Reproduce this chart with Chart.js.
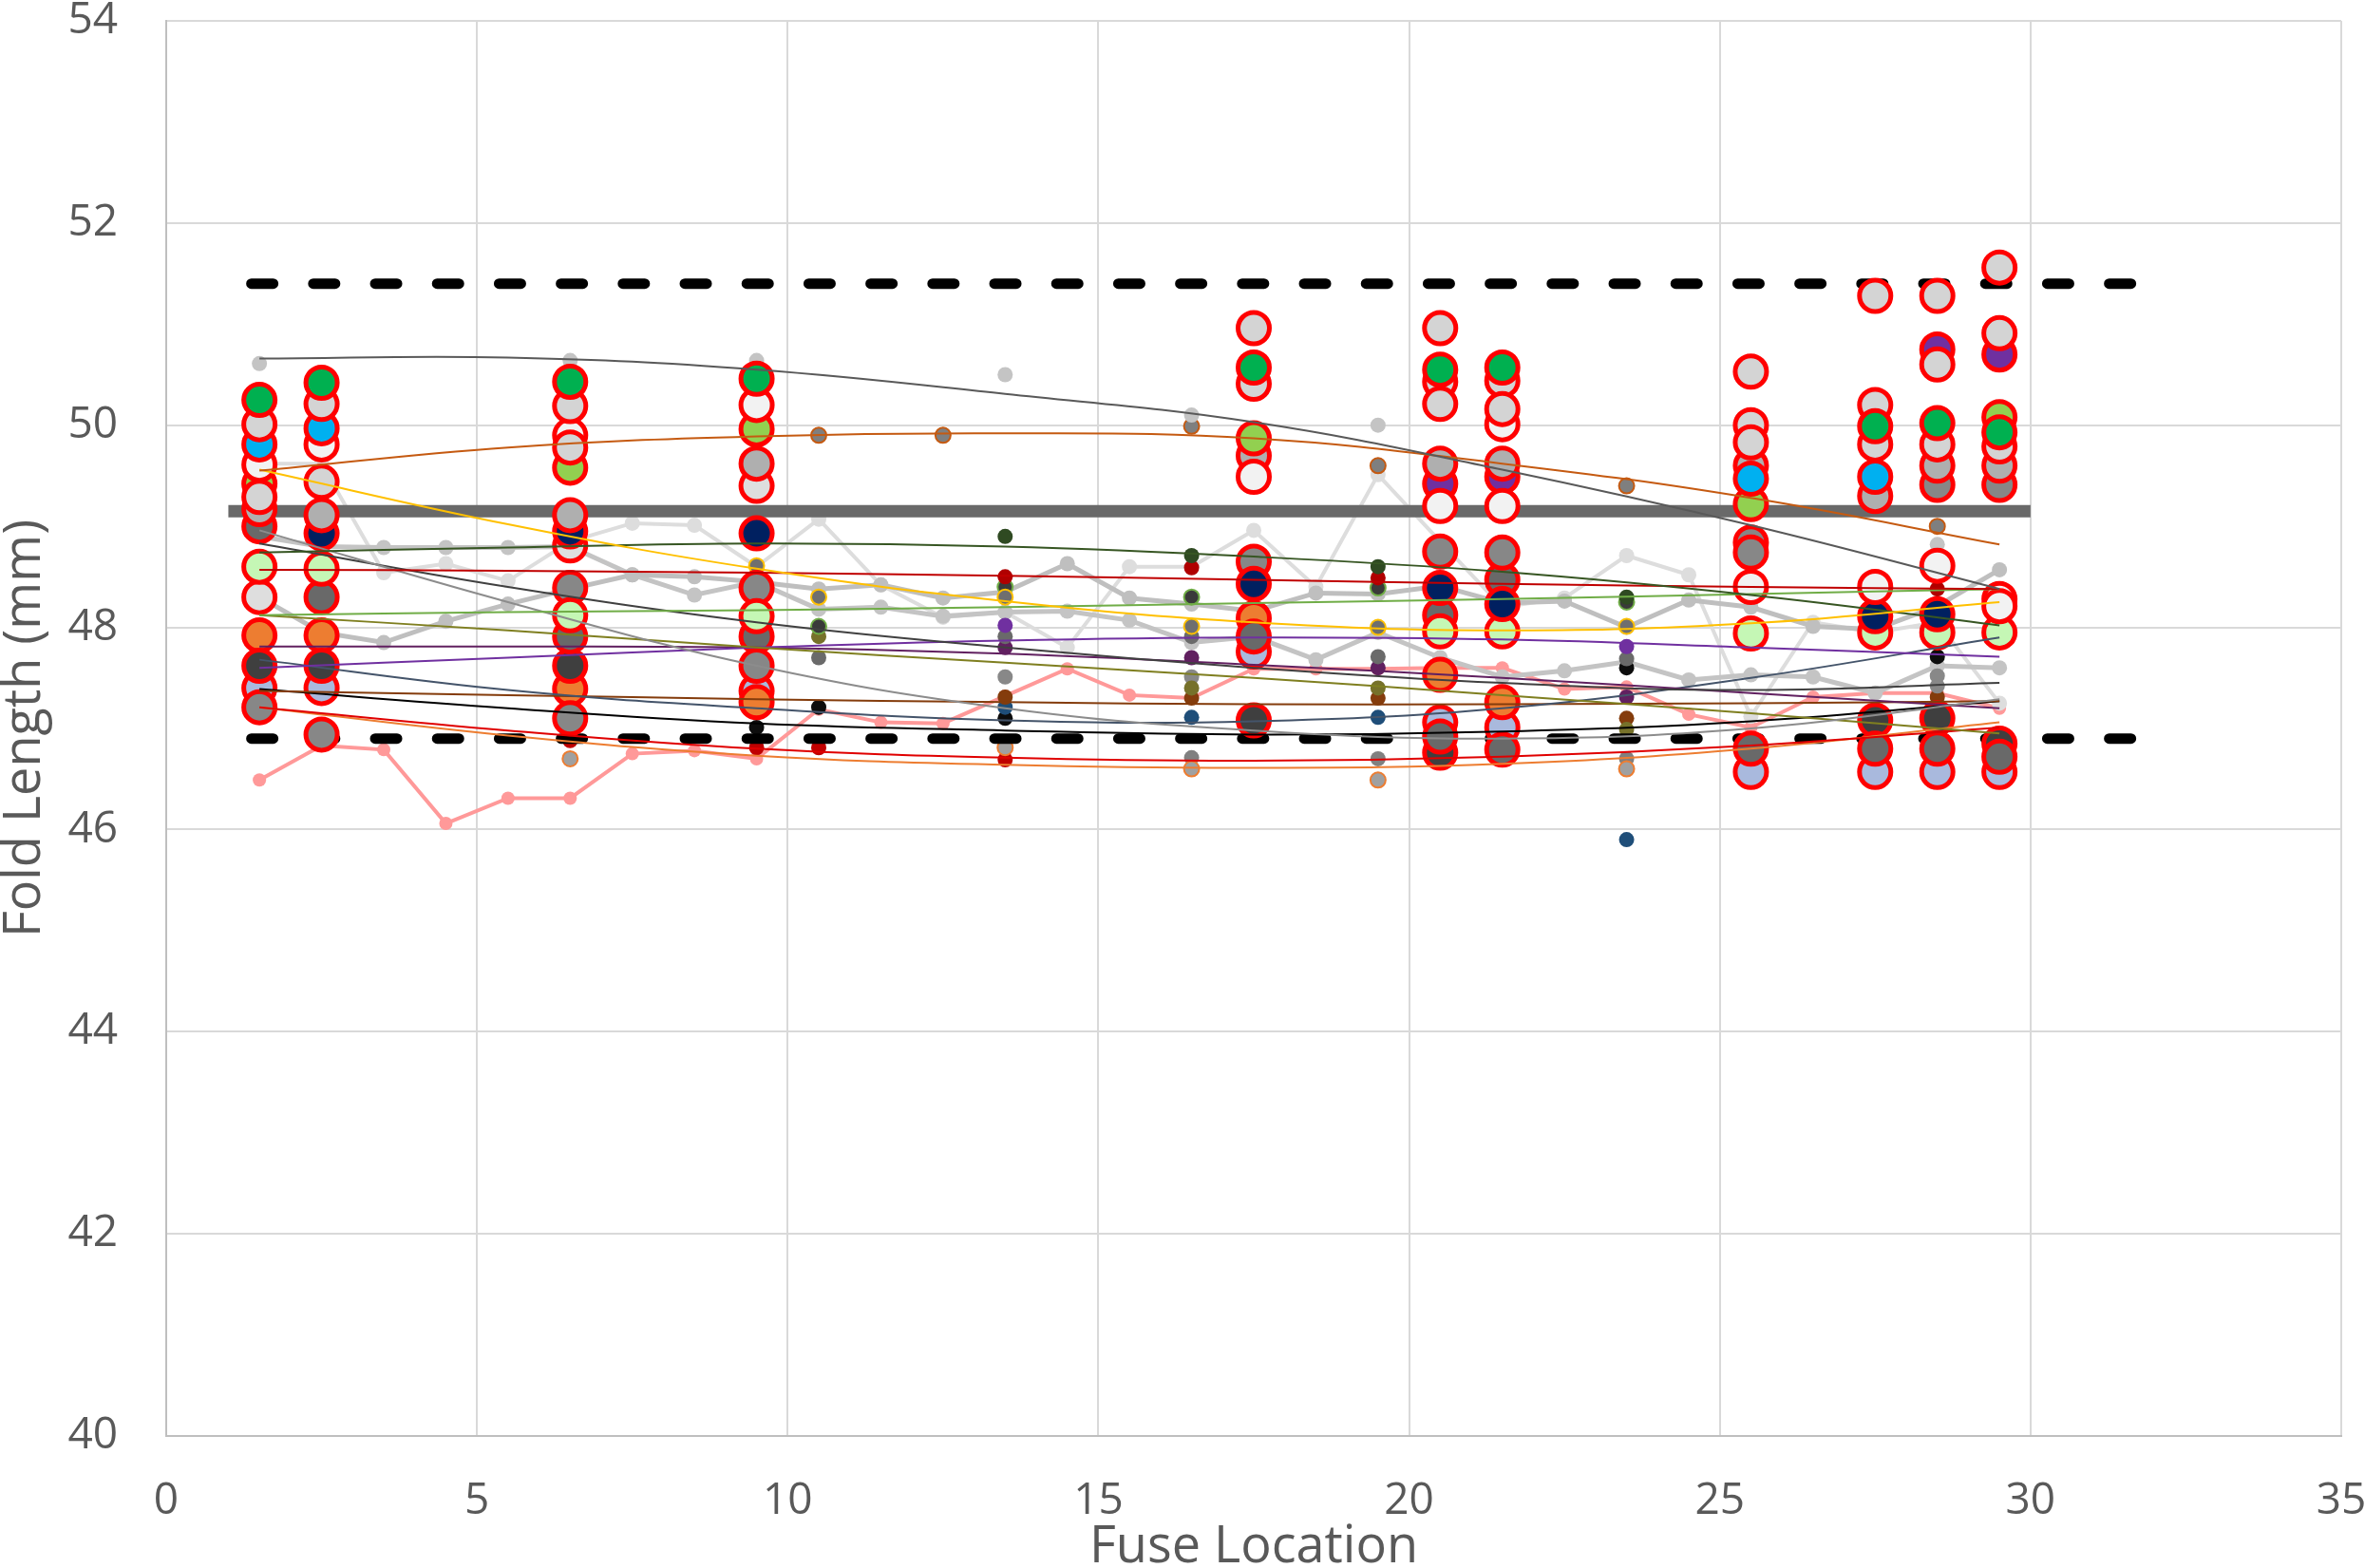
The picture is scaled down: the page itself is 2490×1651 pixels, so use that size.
<!DOCTYPE html>
<html>
<head>
<meta charset="utf-8">
<script src="https://cdn.jsdelivr.net/npm/chart.js@4.4.1/dist/chart.umd.min.js"></script>
<style>
  html, body { margin: 0; padding: 0; background: #fff; }
  #wrap { width: 2490px; height: 1651px; position: relative; }
</style>
</head>
<body>
<div id="wrap"><canvas id="chart"></canvas></div>
<script>
// fuse positions measured along the part
const fuseX = [1.5, 2.5, 3.5, 4.5, 5.5, 6.5, 7.5, 8.5, 9.5, 10.5, 11.5, 12.5, 13.5, 14.5, 15.5,
               16.5, 17.5, 18.5, 19.5, 20.5, 21.5, 22.5, 23.5, 24.5, 25.5, 26.5, 27.5, 28.5, 29.5];

// connected runs (one value per fuse)
const greyRunA = [48.30, 47.95, 47.85, 48.06, 48.23, 48.38, 48.52, 48.50, 48.45, 48.38, 48.42, 48.29, 48.35, 48.63, 48.29,
                  48.23, 48.16, 48.34, 48.33, 48.41, 48.24, 48.26, 48.00, 48.27, 48.20, 48.01, 47.98, 48.21, 48.57];
const greyRunB = [48.90, 48.80, 48.79, 48.79, 48.79, 48.80, 48.52, 48.32, 48.45, 48.18, 48.20, 48.11, 48.15, 48.16, 48.07,
                  47.85, 47.91, 47.68, 47.95, 47.70, 47.51, 47.57, 47.66, 47.48, 47.53, 47.51, 47.35, 47.62, 47.60];
const paleRun  = [49.62, 49.62, 48.54, 48.63, 48.46, 48.85, 49.03, 49.01, 48.60, 49.07, 48.42, 48.10, 48.15, 47.80, 48.60,
                  48.60, 48.96, 48.40, 49.51, 48.85, 48.20, 48.29, 48.71, 48.52, 47.12, 48.05, 47.95, 48.05, 47.25];
const pinkRun  = [46.49, 46.83, 46.79, 46.06, 46.31, 46.31, 46.75, 46.78, 46.70, 47.19, 47.06, 47.05, 47.32, 47.59, 47.33,
                  47.30, 47.59, 47.59, 47.59, 47.60, 47.60, 47.39, 47.41, 47.14, 47.01, 47.31, 47.35, 47.35, 47.20];

// spec limits and target
const limitSpan = [1.37, 31.67];
const upperLimit = 51.4;
const lowerLimit = 46.9;
const targetSpan = [1, 30];
const target = 49.15;

// flagged measurements (red ring), grouped by fill
const ringGreen = [[1.5,50.25],[2.5,50.42],[6.5,50.43],[9.5,50.46],[17.5,50.57],[20.5,50.55],[21.5,50.57],[27.5,49.99],[28.5,50.02],[29.5,49.93]];
const ringSilver = [[1.5,50.01],[1.5,49.29],[2.5,50.21],[2.5,49.44],[6.5,50.19],[6.5,49.78],[17.5,50.96],[17.5,50.41],[20.5,50.96],[20.5,50.43],[20.5,50.21],
                    [21.5,50.44],[21.5,50.16],[25.5,50.53],[25.5,50.00],[25.5,49.83],[27.5,51.28],[27.5,50.20],[27.5,49.81],[28.5,51.28],[28.5,50.60],[28.5,49.81],
                    [29.5,51.56],[29.5,50.91],[29.5,49.79]];
const ringSky = [[1.5,49.81],[2.5,49.97],[25.5,49.47],[27.5,49.49]];
const ringWhite = [[1.5,49.61],[2.5,49.81],[6.5,49.90],[9.5,50.20],[17.5,49.49],[20.5,49.20],[21.5,49.20],[21.5,50.01],[25.5,48.40],[27.5,48.40],[28.5,48.61],[29.5,48.28],[29.5,48.21]];
const ringLime = [[1.5,49.42],[6.5,49.58],[9.5,49.96],[17.5,49.87],[25.5,49.22],[29.5,50.08]];
const ringGrey = [[1.5,49.17],[2.5,49.11],[6.5,49.11],[9.5,49.62],[17.5,49.70],[20.5,49.62],[21.5,49.62],[25.5,49.60],[27.5,49.30],[28.5,49.60],[29.5,49.60]];
const ringNavy = [[2.5,48.93],[6.5,48.95],[9.5,48.93],[17.5,48.43],[20.5,48.39],[21.5,48.23],[27.5,48.11],[28.5,48.13]];
const ringMint = [[1.5,48.60],[2.5,48.58],[6.5,48.12],[9.5,48.11],[20.5,47.96],[21.5,47.96],[25.5,47.94],[27.5,47.95],[28.5,47.95],[29.5,47.95]];
const ringPale = [[1.5,48.30],[6.5,48.81],[9.5,49.40]];
const ringMid = [[1.5,47.21],[2.5,46.94],[6.5,47.10],[6.5,48.39],[9.5,48.39],[9.5,47.62],[17.5,48.65],[20.5,48.75],[21.5,48.74],[25.5,48.84],[25.5,48.74],[28.5,49.41],[29.5,49.41]];
const ringSlate = [[1.5,49.00],[2.5,48.30],[6.5,47.91],[9.5,47.91],[17.5,47.91],[20.5,48.12],[20.5,46.92],[21.5,48.47],[21.5,46.79],[25.5,46.80],[27.5,46.80],[28.5,46.80],[29.5,46.72]];
const ringCharcoal = [[1.5,47.62],[2.5,47.62],[6.5,47.62],[17.5,47.08],[20.5,46.76],[27.5,47.08],[28.5,47.10],[29.5,46.85]];
const ringOrange = [[1.5,47.92],[2.5,47.92],[6.5,47.39],[9.5,47.26],[17.5,48.09],[20.5,47.53],[21.5,47.26]];
const ringLavender = [[1.5,47.40],[2.5,47.40],[9.5,47.37],[17.5,47.76],[20.5,47.06],[21.5,47.01],[25.5,46.57],[27.5,46.57],[28.5,46.57],[29.5,46.57]];
const ringPurple = [[20.5,49.42],[21.5,49.49],[28.5,50.75],[29.5,50.70]];

// individual measurements (small markers)
const dotSilver = [[1.5,50.61],[6.5,50.64],[9.5,50.64],[13.5,50.50],[16.5,50.10],[19.5,50.00],[28.5,48.82]];
const dotUmber = [[10.5,49.90],[12.5,49.90],[16.5,49.99],[19.5,49.60],[23.5,49.40],[28.5,49.00]];
const dotGold = [[9.5,48.61],[10.5,48.30],[13.5,48.30],[16.5,48.01],[19.5,48.00],[23.5,48.01]];
const dotForest = [[13.5,48.90],[16.5,48.71],[19.5,48.60],[23.5,48.30]];
const dotCrimson = [[13.5,48.50],[16.5,48.59],[19.5,48.49],[28.5,48.38]];
const dotMoss = [[10.5,48.01],[13.5,48.40],[16.5,48.30],[19.5,48.39],[23.5,48.25]];
const dotViolet = [[13.5,48.02],[23.5,47.81]];
const dotGraphite = [[10.5,47.70],[13.5,47.91],[16.5,47.91],[19.5,47.71],[23.5,47.69]];
const dotPlum = [[13.5,47.80],[16.5,47.70],[19.5,47.60],[23.5,47.31]];
const dotOlive = [[10.5,47.91],[16.5,47.40],[19.5,47.40],[23.5,46.99]];
const dotAsh = [[13.5,47.51],[16.5,47.51],[28.5,47.42],[28.5,47.52]];
const dotRust = [[13.5,47.31],[16.5,47.30],[19.5,47.30],[23.5,47.10],[28.5,47.31]];
const dotNavy = [[13.5,47.21],[16.5,47.11],[19.5,47.11],[23.5,45.90]];
const dotBlack = [[9.5,47.01],[10.5,47.21],[13.5,47.10],[23.5,47.60],[28.5,47.71]];
const dotTan = [[6.5,46.70],[13.5,46.81],[16.5,46.60],[19.5,46.49],[23.5,46.60]];
const dotRed = [[6.5,46.88],[9.5,46.81],[10.5,46.81],[13.5,46.69]];
const dotStone = [[16.5,46.71],[19.5,46.70],[23.5,46.70]];

// trend curves, read at these fuse positions
const trendX = [1.5, 5.5, 9.5, 13.5, 17.5, 21.5, 25.5, 29.5];
const trendSilver   = [50.66, 50.67, 50.55, 50.31, 50.03, 49.56, 49.01, 48.38];
const trendUmber    = [49.55, 49.78, 49.89, 49.92, 49.87, 49.62, 49.28, 48.82];
const trendGold     = [49.56, 49.02, 48.58, 48.26, 48.05, 47.97, 48.04, 48.25];
const trendForest   = [48.74, 48.79, 48.83, 48.80, 48.70, 48.55, 48.32, 48.02];
const trendCrimson  = [48.57, 48.56, 48.54, 48.51, 48.47, 48.43, 48.40, 48.38];
const trendMoss     = [48.12, 48.15, 48.17, 48.20, 48.24, 48.28, 48.33, 48.38];
const trendGrey     = [48.96, 48.25, 47.62, 47.20, 46.98, 46.90, 47.00, 47.29];
const trendGraphite = [48.83, 48.40, 48.05, 47.80, 47.60, 47.45, 47.38, 47.45];
const trendOlive    = [48.12, 47.97, 47.80, 47.65, 47.50, 47.33, 47.15, 46.95];
const trendViolet   = [47.60, 47.70, 47.80, 47.87, 47.90, 47.88, 47.80, 47.71];
const trendPlum     = [47.81, 47.81, 47.80, 47.74, 47.63, 47.50, 47.35, 47.20];
const trendNavy     = [47.68, 47.38, 47.20, 47.08, 47.07, 47.20, 47.50, 47.90];
const trendRust     = [47.37, 47.33, 47.29, 47.26, 47.24, 47.24, 47.25, 47.27];
const trendBlack    = [47.39, 47.20, 47.05, 46.98, 46.94, 46.97, 47.07, 47.27];
const trendRed      = [47.21, 46.98, 46.80, 46.71, 46.68, 46.72, 46.83, 47.01];
const trendOrange   = [47.21, 46.93, 46.73, 46.64, 46.61, 46.65, 46.80, 47.06];

const pts = pairs => pairs.map(p => ({ x: p[0], y: p[1] }));
const along = (xs, ys) => ys.map((y, i) => ({ x: xs[i], y: y }));

function ring(data, fill) {
    return { data: pts(data), showLine: false, pointRadius: 16.5, pointBackgroundColor: fill,
             pointBorderColor: '#ff0000', pointBorderWidth: 5, order: 1 };
}
function dot(data, fill, edge) {
    return { data: pts(data), showLine: false, pointRadius: 8, pointBackgroundColor: fill,
             pointBorderColor: edge || fill, pointBorderWidth: edge ? 2 : 0, order: 3 };
}
function trend(ys, color) {
    return { data: along(trendX, ys), showLine: true, pointRadius: 0, borderColor: color,
             borderWidth: 2, tension: 0.4, order: 0 };
}
function run(ys, color, width, r) {
    return { data: along(fuseX, ys), showLine: true, borderColor: color, borderWidth: width,
             pointRadius: r, pointBackgroundColor: color, pointBorderWidth: 0, order: 4 };
}
function flat(span, y, color, width, dash) {
    return { data: span.map(x => ({ x: x, y: y })), showLine: true, pointRadius: 0, borderColor: color,
             borderWidth: width, borderDash: dash || [], borderCapStyle: dash ? 'round' : 'butt', order: 2 };
}

const datasets = [
    trend(trendSilver, '#595959'), trend(trendUmber, '#c55a11'), trend(trendGold, '#ffc000'),
    trend(trendForest, '#375623'), trend(trendCrimson, '#c00000'), trend(trendMoss, '#70ad47'),
    trend(trendGrey, '#8c8c8c'), trend(trendGraphite, '#404040'), trend(trendOlive, '#7f7f20'),
    trend(trendViolet, '#7030a0'), trend(trendPlum, '#612060'), trend(trendNavy, '#44546a'),
    trend(trendRust, '#843c0c'), trend(trendBlack, '#000000'), trend(trendRed, '#e00000'),
    trend(trendOrange, '#ed7d31'),

    ring(ringGreen, '#00b050'), ring(ringSilver, '#d4d4d4'), ring(ringSky, '#00b0f0'),
    ring(ringWhite, '#f2f2f2'), ring(ringLime, '#92d050'), ring(ringGrey, '#afafaf'),
    ring(ringNavy, '#002060'), ring(ringMint, '#c5f7b5'), ring(ringPale, '#dedede'),
    ring(ringMid, '#878787'), ring(ringSlate, '#696969'), ring(ringCharcoal, '#3f3f3f'),
    ring(ringOrange, '#ed7d31'), ring(ringLavender, '#a9b9dd'), ring(ringPurple, '#7030a0'),

    flat(limitSpan, upperLimit, '#000000', 11, [23, 42.2]),
    flat(limitSpan, lowerLimit, '#000000', 11, [23, 42.2]),
    flat(targetSpan, target, '#696969', 13),

    dot(dotSilver, '#c4c4c4'), dot(dotUmber, '#7f7f7f', '#c55a11'), dot(dotGold, '#6f6f6f', '#ffc000'),
    dot(dotForest, '#2f4a22'), dot(dotCrimson, '#b00000'), dot(dotMoss, '#3a3a3a', '#70ad47'),
    dot(dotViolet, '#7030a0'), dot(dotGraphite, '#6a6a6a'), dot(dotPlum, '#612060'),
    dot(dotOlive, '#76712a'), dot(dotAsh, '#888888'), dot(dotRust, '#843c0c'),
    dot(dotNavy, '#1f4e79'), dot(dotBlack, '#0d0d0d'), dot(dotTan, '#a0a0a0', '#ed7d31'),
    dot(dotRed, '#c00000'), dot(dotStone, '#808080'),

    run(greyRunA, '#bfbfbf', 5, 8), run(greyRunB, '#c4c4c4', 5, 8),
    run(paleRun, '#dddddd', 4, 8), run(pinkRun, '#ff9999', 4, 7)
];

Chart.defaults.font.family = "'Open Sans', sans-serif";

// drop the label overhang chart.js adds, so the plot box sits where the padding says
const noOverhang = s => { s.paddingTop = 0; s.paddingBottom = 0; s.paddingLeft = 0; s.paddingRight = 0; };

new Chart(document.getElementById('chart'), {
    type: 'scatter',
    data: { datasets: datasets },
    options: {
        responsive: true,
        maintainAspectRatio: false,
        animation: false,
        events: [],
        layout: { padding: { top: 22, right: 25, left: 0, bottom: 0 } },
        plugins: { legend: { display: false }, tooltip: { enabled: false } },
        scales: {
            x: {
                type: 'linear', min: 0, max: 35,
                ticks: { stepSize: 5, color: '#595959', font: { size: 46 }, padding: 41 },
                grid: { color: '#d9d9d9', lineWidth: 2, drawTicks: false },
                border: { color: '#bfbfbf', width: 2 },
                title: { display: true, text: 'Fuse Location', color: '#595959',
                         font: { size: 54, lineHeight: 1 }, padding: { top: 0, bottom: -6 } },
                afterFit: s => { noOverhang(s); s.height = 139; }
            },
            y: {
                type: 'linear', min: 40, max: 54,
                ticks: { stepSize: 2, color: '#595959', font: { size: 46 }, padding: 51 },
                grid: { color: '#d9d9d9', lineWidth: 2, drawTicks: false },
                border: { color: '#bfbfbf', width: 2 },
                title: { display: true, text: 'Fold Length (mm)', color: '#595959',
                         font: { size: 54, lineHeight: 1 }, padding: { top: 0, bottom: 0 } },
                afterFit: s => { noOverhang(s); s.width = 175; }
            }
        }
    }
});
</script>
</body>
</html>
